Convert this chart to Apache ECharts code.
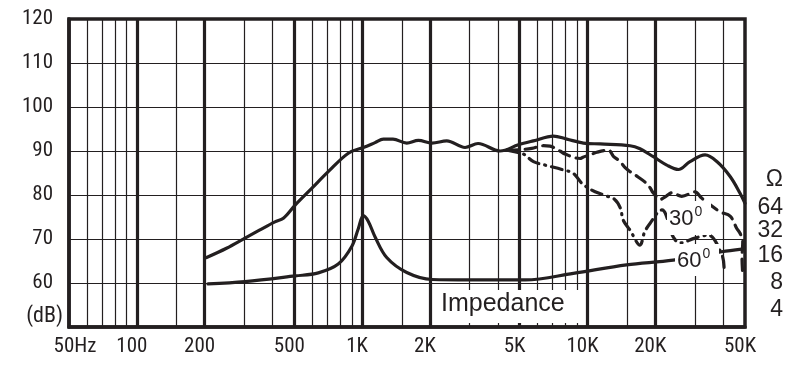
<!DOCTYPE html>
<html><head><meta charset="utf-8">
<script src="https://cdn.jsdelivr.net/npm/echarts@6/dist/echarts.min.js"></script>
<style>html,body{margin:0;padding:0;background:#fff}#c{width:812px;height:389px}</style>
</head><body><div id="c"></div>
<script>
// ---- data ----
const tickValues = [50, 100, 200, 500, 1000, 2000, 5000, 10000, 20000, 50000];
const tickLabels = ['50Hz', '100', '200', '500', '1K', '2K', '5K', '10K', '20K', '50K'];
const thickGrid = [100, 200, 500, 1000, 2000, 5000, 10000, 20000];
const thinGrid = [60, 70, 80, 90, 150, 300, 400, 600, 700, 800, 900, 1500, 3000, 4000, 6000, 7000, 8000, 9000, 15000, 30000, 40000];
const ohmLabels = ['Ω', '64', '32', '16', '8', '4'];

const onAxis = [[204,65.8],[250,67.9],[302,70.2],[350,72.0],[410,73.9],[447,74.7],[504,77.7],[597,81.5],[707,85.3],[868,89.5],[1012,90.8],[1140,91.9],[1242,92.7],[1370,92.7],[1577,91.8],[1776,92.4],[2041,91.8],[2373,92.3],[2862,90.8],[3268,91.7],[4091,90.0],[4935,91.4],[5752,92.3],[7063,93.4],[8093,92.7],[9591,91.8],[11375,91.6],[15450,91.2],[17100,90.5],[19600,88.7],[22475,86.8],[25300,85.8],[28500,87.6],[33260,89.1],[37500,87.6],[42950,84.2],[47530,80.4],[50000,78.1]];

const off30 = [[4400,90.2],[5000,90.3],[5660,90.6],[6370,91.2],[6825,91.1],[7550,90.0],[7950,89.3],[9270,88.3],[9550,88.6],[10250,89.1],[10990,89.7],[12380,90.2],[13030,88.8],[13960,87.6],[14690,86.2],[15450,85.3],[16770,84.1],[18030,82.9],[18985,81.6],[19550,80.5],[21000,79.0],[22300,79.7],[23660,80.5],[26200,79.7],[30000,80.7],[32100,79.3],[38700,76.2],[42950,75.2],[45970,72.4],[47530,71.3],[48860,69.4],[48500,65.6],[48800,62.5]];

const off60 = [[4400,90.2],[4800,89.8],[5200,89.3],[5760,87.6],[6480,86.8],[7690,85.8],[8650,84.9],[9430,82.7],[10450,81.1],[11770,80.0],[13200,79.0],[14000,77.0],[14400,74.3],[15450,72.0],[17100,68.6],[17900,71.5],[18970,73.6],[21400,76.6],[22300,75.5],[23500,71.5],[24500,69.8],[25700,69.1],[30000,70.2],[34300,70.9],[39500,66.4],[40400,63.2]];

const impedance = [[207,59.8],[302,60.3],[504,61.6],[639,62.3],[783,64.3],[899,68.3],[962,72.4],[1012,75.3],[1065,74.0],[1140,70.5],[1285,65.8],[1577,62.4],[2041,60.8],[3000,60.7],[5300,60.7],[8650,62.2],[14900,64.1],[24000,65.2],[39400,67.1],[48400,67.7]];

// ---- styling ----
const INK = '#231f20';
const NARROW = "'Roboto Condensed','Liberation Sans',sans-serif";
const SANS = "'Liberation Sans',Arial,sans-serif";

const chart = echarts.init(document.getElementById('c'), null, {renderer: 'canvas'});

function nearestLabel(v) {
  let best = 0, bd = Infinity;
  tickValues.forEach((t, i) => { const d = Math.abs(Math.log10(v) - Math.log10(t)); if (d < bd) { bd = d; best = i; } });
  return best;
}

const ohmY = [180, 207.5, 231, 255.5, 282.5, 310];

const graphics = [];
ohmLabels.forEach((t, i) => graphics.push({
  type: 'text', z: 20, style: {text: t, x: 783, y: ohmY[i], align: 'right', verticalAlign: 'middle', font: '23px ' + SANS, fill: INK}
}));
graphics.push({type: 'text', z: 20, style: {text: '(dB)', x: 63, y: 316, align: 'right', verticalAlign: 'middle', font: '22px ' + NARROW, fill: INK}});
// label boxes
graphics.push({type: 'rect', z: 15, shape: {x: 437, y: 290, width: 147, height: 33}, style: {fill: '#fff'}});
graphics.push({type: 'text', z: 20, style: {text: 'Impedance', x: 441, y: 304, align: 'left', verticalAlign: 'middle', font: '25px ' + SANS, fill: INK}});
graphics.push({type: 'rect', z: 15, shape: {x: 667, y: 201, width: 44, height: 34}, style: {fill: '#fff'}});
graphics.push({type: 'text', z: 20, style: {text: '30', x: 669, y: 219, align: 'left', verticalAlign: 'middle', font: '22px ' + SANS, fill: INK}});
graphics.push({type: 'text', z: 20, style: {text: '0', x: 694.5, y: 212, align: 'left', verticalAlign: 'middle', font: '14px ' + SANS, fill: INK}});
graphics.push({type: 'rect', z: 15, shape: {x: 675, y: 244, width: 44, height: 32}, style: {fill: '#fff'}});
graphics.push({type: 'text', z: 20, style: {text: '60', x: 677, y: 261, align: 'left', verticalAlign: 'middle', font: '22px ' + SANS, fill: INK}});
graphics.push({type: 'text', z: 20, style: {text: '0', x: 702.5, y: 254, align: 'left', verticalAlign: 'middle', font: '14px ' + SANS, fill: INK}});

function curve(name, data, type) {
  return {
    name, type: 'line', data, smooth: 0.35, symbol: 'none', z: 5, silent: true,
    lineStyle: {color: INK, width: 3.2, type: type || 'solid', cap: 'round'}
  };
}

chart.setOption({
  animation: false,
  backgroundColor: '#fff',
  grid: {left: 69, right: 67, top: 19, bottom: 62, show: true, borderColor: INK, borderWidth: 3.5, backgroundColor: '#fff'},
  xAxis: {
    type: 'log', logBase: 10, min: 50, max: 50000,
    axisLine: {show: true, lineStyle: {color: INK, width: 3.5}},
    axisTick: {show: false},
    splitLine: {show: false},
    minorTick: {show: false}, minorSplitLine: {show: false},
    axisLabel: {
      customValues: tickValues,
      margin: 9,
      formatter: v => { const i = nearestLabel(v); return i === 0 ? '{f|' + tickLabels[i] + '}' : '{o|' + tickLabels[i] + '}'; },
      rich: {
        f: {fontSize: 21, fontFamily: NARROW, color: INK, padding: [0, 0, 0, 12]},
        o: {fontSize: 21, fontFamily: NARROW, color: INK, padding: [0, 10, 0, 0]}
      }
    }
  },
  yAxis: {
    type: 'value', min: 50, max: 120, interval: 10,
    axisLine: {show: true, lineStyle: {color: INK, width: 3.5}},
    axisTick: {show: false},
    splitLine: {show: true, lineStyle: {color: INK, width: 1.2}},
    axisLabel: {
      margin: 16, fontSize: 21, fontFamily: NARROW, color: INK, padding: [5, 0, 0, 0],
      formatter: v => v === 50 ? '' : String(v)
    }
  },
  graphic: graphics,
  series: [
    {
      name: 'grid', type: 'line', data: [], z: 1, silent: true,
      markLine: {
        silent: true, symbol: ['none', 'none'], label: {show: false}, animation: false,
        lineStyle: {type: 'solid', color: INK, width: 1.2},
        data: thinGrid.map(v => ({xAxis: v}))
      }
    },
    {
      name: 'grid2', type: 'line', data: [], z: 1, silent: true,
      markLine: {
        silent: true, symbol: ['none', 'none'], label: {show: false}, animation: false,
        lineStyle: {type: 'solid', color: INK, width: 3.2},
        data: thickGrid.map(v => ({xAxis: v}))
      }
    },
    curve('0°', onAxis),
    curve('30°', off30, [11, 7]),
    curve('60°', off60, [11, 6, 1, 6]),
    curve('Impedance', impedance)
  ]
});
</script>
</body></html>
